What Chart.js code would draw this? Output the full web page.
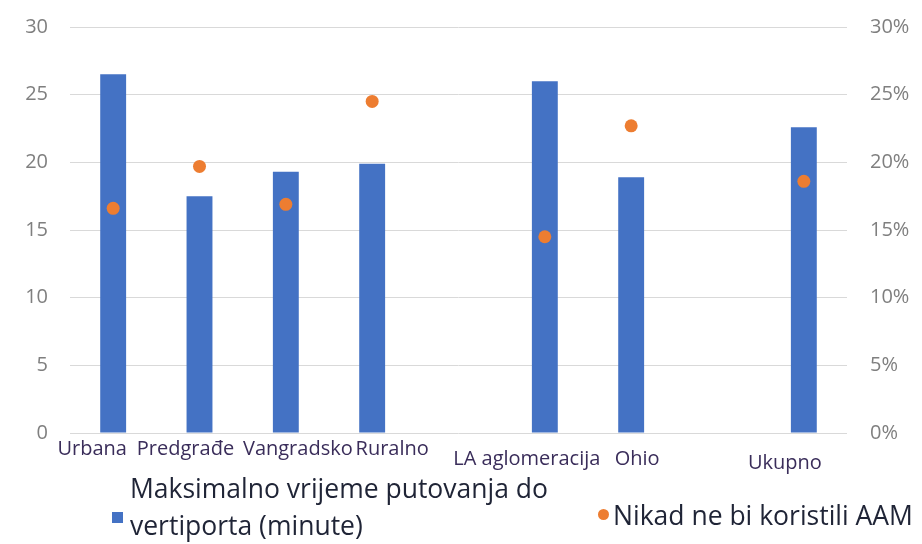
<!DOCTYPE html>
<html>
<head>
<meta charset="utf-8">
<script src="https://cdn.jsdelivr.net/npm/chart.js@4/dist/chart.umd.min.js"></script>
<style>
  html, body { margin: 0; padding: 0; background: #fff; }
  #wrap { position: relative; width: 922px; height: 544px; overflow: hidden; }
  canvas { position: absolute; left: 0; top: 0; }
  .leg { position: absolute; font-family: "Open Sans", sans-serif; color: #1f2436; font-size: 26.5px; line-height: 37px; white-space: nowrap; }
  .sq { position: absolute; width: 11px; height: 11px; background: #4472C4; }
  .dot { position: absolute; width: 11px; height: 11px; border-radius: 50%; background: #ED7D31; }
</style>
</head>
<body>
<div id="wrap">
  <canvas id="c" width="922" height="544"></canvas>
  <div class="sq" style="left:112px; top:512px;"></div>
  <div class="leg" id="leg1" style="left:130px; top:470px;">Maksimalno vrijeme putovanja do<br>vertiporta (minute)</div>
  <div class="dot" style="left:598px; top:509px;"></div>
  <div class="leg" id="leg2" style="left:613px; top:497px;">Nikad ne bi koristili AAM</div>
</div>
<script>
// ---- data ----
const categories = ['Urbana', 'Predgrađe', 'Vangradsko', 'Ruralno', '', 'LA aglomeracija', 'Ohio', '', 'Ukupno'];
const maxTravelMinutes = [26.5, 17.5, 19.3, 19.9, null, 26.0, 18.9, null, 22.6];
const neverUseAAMPercent = [16.6, 19.7, 16.9, 24.5, null, 14.5, 22.7, null, 18.6];
const leftTicks = [0, 5, 10, 15, 20, 25, 30];
const rightTicks = [0, 5, 10, 15, 20, 25, 30];
const seriesNames = ['Maksimalno vrijeme putovanja do vertiporta (minute)', 'Nikad ne bi koristili AAM'];

// ---- layout for the category labels (offset from bar centre, middle y) ----
const labelDx = [-21, -14, 12, 20, 0, -18, 6, 0, -19];
const labelY  = [449, 449, 449, 449, 449, 459, 459, 459, 463];

const catLabelPlugin = {
  id: 'catLabels',
  afterDraw(chart) {
    const ctx = chart.ctx;
    const xs = chart.scales.x;
    ctx.save();
    ctx.font = '20px "Open Sans", sans-serif';
    ctx.fillStyle = '#3a2d5a';
    ctx.textAlign = 'center';
    ctx.textBaseline = 'middle';
    categories.forEach((c, i) => {
      if (!c) return;
      ctx.fillText(c, xs.getPixelForValue(i) + labelDx[i], labelY[i]);
    });
    ctx.restore();
  }
};

new Chart(document.getElementById('c'), {
  type: 'bar',
  data: {
    labels: categories,
    datasets: [
      {
        type: 'bar',
        label: seriesNames[0],
        data: maxTravelMinutes,
        backgroundColor: '#4472C4',
        yAxisID: 'y',
        barPercentage: 0.3,
        categoryPercentage: 1.0,
        order: 2
      },
      {
        type: 'line',
        label: seriesNames[1],
        data: neverUseAAMPercent,
        showLine: false,
        pointRadius: 6.5,
        pointHoverRadius: 6.5,
        pointBackgroundColor: '#ED7D31',
        pointBorderColor: '#ED7D31',
        pointBorderWidth: 0,
        yAxisID: 'y1',
        order: 1
      }
    ]
  },
  options: {
    responsive: false,
    animation: false,
    layout: { padding: { top: 27, left: 0, right: 0, bottom: 0 } },
    plugins: { legend: { display: false }, tooltip: { enabled: false } },
    scales: {
      x: {
        grid: { display: false, drawTicks: false },
        border: { display: false },
        ticks: { display: false },
        afterFit(s) { s.height = 111; s.paddingLeft = 0; s.paddingRight = 0; }
      },
      y: {
        position: 'left',
        min: 0, max: 30,
        afterBuildTicks(s) { s.ticks = leftTicks.map(v => ({ value: v })); },
        grid: { color: '#d9d9d9', lineWidth: 1, drawTicks: false },
        border: { display: false },
        ticks: {
          color: '#7f7f7f',
          padding: 22,
          font: { family: 'Open Sans', size: 20 }
        },
        afterFit(s) { s.width = 70; s.paddingTop = 0; s.paddingBottom = 0; }
      },
      y1: {
        position: 'right',
        min: 0, max: 30,
        afterBuildTicks(s) { s.ticks = rightTicks.map(v => ({ value: v })); },
        grid: { display: false, drawTicks: false },
        border: { display: false },
        ticks: {
          color: '#7f7f7f',
          padding: 23,
          font: { family: 'Open Sans', size: 20 },
          callback: v => v + '%'
        },
        afterFit(s) { s.width = 75; s.paddingTop = 0; s.paddingBottom = 0; }
      }
    }
  },
  plugins: [catLabelPlugin]
});
</script>
</body>
</html>
